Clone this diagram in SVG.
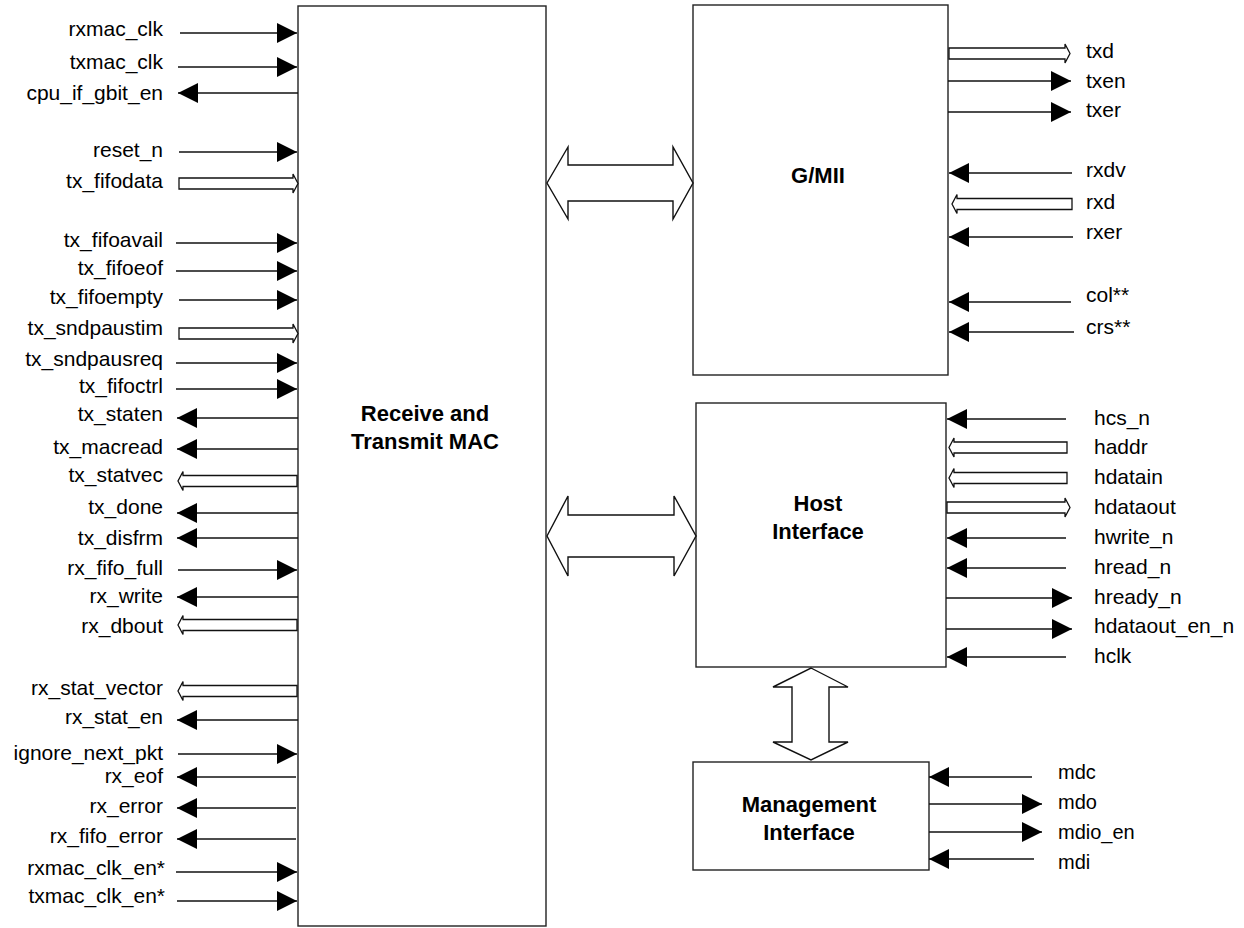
<svg xmlns="http://www.w3.org/2000/svg" width="1244" height="928" viewBox="0 0 1244 928">
<style>
.box{fill:#fff;stroke:#222;stroke-width:1.4}
.w{fill:none;stroke:#111;stroke-width:1.3}
.bus{fill:#fff;stroke:#111;stroke-width:1.3;stroke-linejoin:miter}
.dbl{fill:#fff;stroke:#111;stroke-width:1.4;stroke-linejoin:miter}
text{font-family:"Liberation Sans",Arial,Helvetica,sans-serif;fill:#000}
.lbl{font-size:21px}
.l{text-anchor:end}
.m{font-size:20px}
.ttl{font-size:22px;font-weight:bold;text-anchor:middle}
</style>
<defs>
<marker id="ah" viewBox="0 0 20 20" refX="20" refY="10" markerWidth="20" markerHeight="20" markerUnits="userSpaceOnUse" orient="auto">
<path d="M0,0 L20,10 L0,20 Z" fill="#000"/>
</marker>
</defs>
<rect width="1244" height="928" fill="#fff"/>

<g id="mac">
<rect class="box" x="298" y="6" width="248" height="920"/>
<text class="ttl" x="425" y="421">Receive and</text>
<text class="ttl" x="425" y="449">Transmit MAC</text>
</g>
<g id="gmii">
<rect class="box" x="693" y="5" width="255" height="370"/>
<text class="ttl" x="818" y="183">G/MII</text>
</g>
<g id="host">
<rect class="box" x="696" y="403" width="250" height="264"/>
<text class="ttl" x="818" y="511">Host</text>
<text class="ttl" x="818" y="539">Interface</text>
</g>
<g id="mgmt">
<rect class="box" x="693" y="762" width="236" height="108"/>
<text class="ttl" x="809" y="812">Management</text>
<text class="ttl" x="809" y="840">Interface</text>
</g>

<g id="connectors">
<!-- big double arrows -->
<polygon class="dbl" points="547,183 568,147 568,165 673,165 673,147 693,183 673,219 673,201 568,201 568,219"/>
<polygon class="dbl" points="547,536 568,496 568,515 674,515 674,496 696,536 674,576 674,557 568,557 568,576"/>
<polygon class="dbl" points="811,668 848,687 829,687 829,742 848,742 811,760 773,742 792,742 792,687 773,687"/>

<!-- left inputs -->
<line class="w" x1="180" y1="33" x2="297" y2="33" marker-end="url(#ah)"/>
<line class="w" x1="178" y1="67" x2="297" y2="67" marker-end="url(#ah)"/>
<line class="w" x1="179" y1="152" x2="297" y2="152" marker-end="url(#ah)"/>
<line class="w" x1="176" y1="243" x2="297" y2="243" marker-end="url(#ah)"/>
<line class="w" x1="176" y1="271" x2="297" y2="271" marker-end="url(#ah)"/>
<line class="w" x1="179" y1="300" x2="297" y2="300" marker-end="url(#ah)"/>
<line class="w" x1="176" y1="363" x2="297" y2="363" marker-end="url(#ah)"/>
<line class="w" x1="176" y1="389" x2="297" y2="389" marker-end="url(#ah)"/>
<line class="w" x1="178" y1="570" x2="297" y2="570" marker-end="url(#ah)"/>
<line class="w" x1="178" y1="754" x2="297" y2="754" marker-end="url(#ah)"/>
<line class="w" x1="176" y1="872" x2="297" y2="872" marker-end="url(#ah)"/>
<line class="w" x1="177" y1="901" x2="297" y2="901" marker-end="url(#ah)"/>
<!-- left outputs -->
<line class="w" x1="298" y1="93" x2="178" y2="93" marker-end="url(#ah)"/>
<line class="w" x1="298" y1="418" x2="177" y2="418" marker-end="url(#ah)"/>
<line class="w" x1="298" y1="449" x2="177" y2="449" marker-end="url(#ah)"/>
<line class="w" x1="298" y1="513" x2="177" y2="513" marker-end="url(#ah)"/>
<line class="w" x1="298" y1="538" x2="177" y2="538" marker-end="url(#ah)"/>
<line class="w" x1="298" y1="597" x2="177" y2="597" marker-end="url(#ah)"/>
<line class="w" x1="298" y1="720" x2="177" y2="720" marker-end="url(#ah)"/>
<line class="w" x1="296" y1="777" x2="177" y2="777" marker-end="url(#ah)"/>
<line class="w" x1="296" y1="808" x2="177" y2="808" marker-end="url(#ah)"/>
<line class="w" x1="296" y1="839" x2="177" y2="839" marker-end="url(#ah)"/>
<!-- left buses -->
<path class="bus" d="M179,178 H293 V174 L298,183.5 L293,193 V189 H179 Z"/>
<path class="bus" d="M179,328 H293 V324 L298,333.5 L293,343 V339 H179 Z"/>
<path class="bus" d="M297,475.5 H183 V471.5 L178,481 L183,490.5 V486.5 H297 Z"/>
<path class="bus" d="M297,619.5 H183 V615.5 L178,625 L183,634.5 V630.5 H297 Z"/>
<path class="bus" d="M297,685.5 H183 V681.5 L178,691 L183,700.5 V696.5 H297 Z"/>

<!-- G/MII side -->
<path class="bus" d="M949,48 H1065 V44 L1070,53.5 L1065,63 V59 H949 Z"/>
<line class="w" x1="948" y1="81" x2="1071" y2="81" marker-end="url(#ah)"/>
<line class="w" x1="948" y1="112" x2="1071" y2="112" marker-end="url(#ah)"/>
<line class="w" x1="1072" y1="173" x2="949" y2="173" marker-end="url(#ah)"/>
<path class="bus" d="M1072,198.5 H957 V194.5 L952,204 L957,213.5 V209.5 H1072 Z"/>
<line class="w" x1="1073" y1="237" x2="949" y2="237" marker-end="url(#ah)"/>
<line class="w" x1="1071" y1="302" x2="949" y2="302" marker-end="url(#ah)"/>
<line class="w" x1="1074" y1="332" x2="949" y2="332" marker-end="url(#ah)"/>

<!-- Host side -->
<line class="w" x1="1066" y1="419" x2="947" y2="419" marker-end="url(#ah)"/>
<path class="bus" d="M1067,442 H954 V438 L949,447.5 L954,457 V453 H1067 Z"/>
<path class="bus" d="M1067,472.5 H954 V468.5 L949,478 L954,487.5 V483.5 H1067 Z"/>
<path class="bus" d="M947,502 H1065 V498 L1070,507.5 L1065,517 V513 H947 Z"/>
<line class="w" x1="1066" y1="538" x2="947" y2="538" marker-end="url(#ah)"/>
<line class="w" x1="1066" y1="568" x2="947" y2="568" marker-end="url(#ah)"/>
<line class="w" x1="946" y1="598" x2="1072" y2="598" marker-end="url(#ah)"/>
<line class="w" x1="946" y1="629" x2="1072" y2="629" marker-end="url(#ah)"/>
<line class="w" x1="1066" y1="657" x2="947" y2="657" marker-end="url(#ah)"/>

<!-- Management side -->
<line class="w" x1="1032" y1="777" x2="929" y2="777" marker-end="url(#ah)"/>
<line class="w" x1="929" y1="804" x2="1042" y2="804" marker-end="url(#ah)"/>
<line class="w" x1="929" y1="832" x2="1042" y2="832" marker-end="url(#ah)"/>
<line class="w" x1="1034" y1="859" x2="929" y2="859" marker-end="url(#ah)"/>
</g>

<g id="labels">
<text class="lbl l" x="163" y="36">rxmac_clk</text>
<text class="lbl l" x="163" y="69">txmac_clk</text>
<text class="lbl l" x="163" y="100">cpu_if_gbit_en</text>
<text class="lbl l" x="163" y="157">reset_n</text>
<text class="lbl l" x="163" y="188">tx_fifodata</text>
<text class="lbl l" x="163" y="247">tx_fifoavail</text>
<text class="lbl l" x="163" y="275">tx_fifoeof</text>
<text class="lbl l" x="163" y="304">tx_fifoempty</text>
<text class="lbl l" x="163" y="335">tx_sndpaustim</text>
<text class="lbl l" x="163" y="366">tx_sndpausreq</text>
<text class="lbl l" x="163" y="393">tx_fifoctrl</text>
<text class="lbl l" x="163" y="421">tx_staten</text>
<text class="lbl l" x="163" y="454">tx_macread</text>
<text class="lbl l" x="163" y="482">tx_statvec</text>
<text class="lbl l" x="163" y="514">tx_done</text>
<text class="lbl l" x="163" y="545">tx_disfrm</text>
<text class="lbl l" x="163" y="575">rx_fifo_full</text>
<text class="lbl l" x="163" y="603">rx_write</text>
<text class="lbl l" x="163" y="633">rx_dbout</text>
<text class="lbl l" x="163" y="695">rx_stat_vector</text>
<text class="lbl l" x="163" y="724">rx_stat_en</text>
<text class="lbl l" x="163" y="760">ignore_next_pkt</text>
<text class="lbl l" x="163" y="783">rx_eof</text>
<text class="lbl l" x="163" y="813">rx_error</text>
<text class="lbl l" x="163" y="843">rx_fifo_error</text>
<text class="lbl l" x="165" y="875">rxmac_clk_en*</text>
<text class="lbl l" x="165" y="903">txmac_clk_en*</text>

<text class="lbl" x="1086" y="58">txd</text>
<text class="lbl" x="1086" y="88">txen</text>
<text class="lbl" x="1086" y="117">txer</text>
<text class="lbl" x="1086" y="177">rxdv</text>
<text class="lbl" x="1086" y="209">rxd</text>
<text class="lbl" x="1086" y="239">rxer</text>
<text class="lbl" x="1086" y="302">col**</text>
<text class="lbl" x="1086" y="334">crs**</text>

<text class="lbl" x="1094" y="425">hcs_n</text>
<text class="lbl" x="1094" y="454">haddr</text>
<text class="lbl" x="1094" y="484">hdatain</text>
<text class="lbl" x="1094" y="514">hdataout</text>
<text class="lbl" x="1094" y="544">hwrite_n</text>
<text class="lbl" x="1094" y="574">hread_n</text>
<text class="lbl" x="1094" y="604">hready_n</text>
<text class="lbl" x="1094" y="633">hdataout_en_n</text>
<text class="lbl" x="1094" y="663">hclk</text>

<text class="lbl m" x="1058" y="779">mdc</text>
<text class="lbl m" x="1058" y="809">mdo</text>
<text class="lbl m" x="1058" y="839">mdio_en</text>
<text class="lbl m" x="1058" y="869">mdi</text>
</g>
</svg>
